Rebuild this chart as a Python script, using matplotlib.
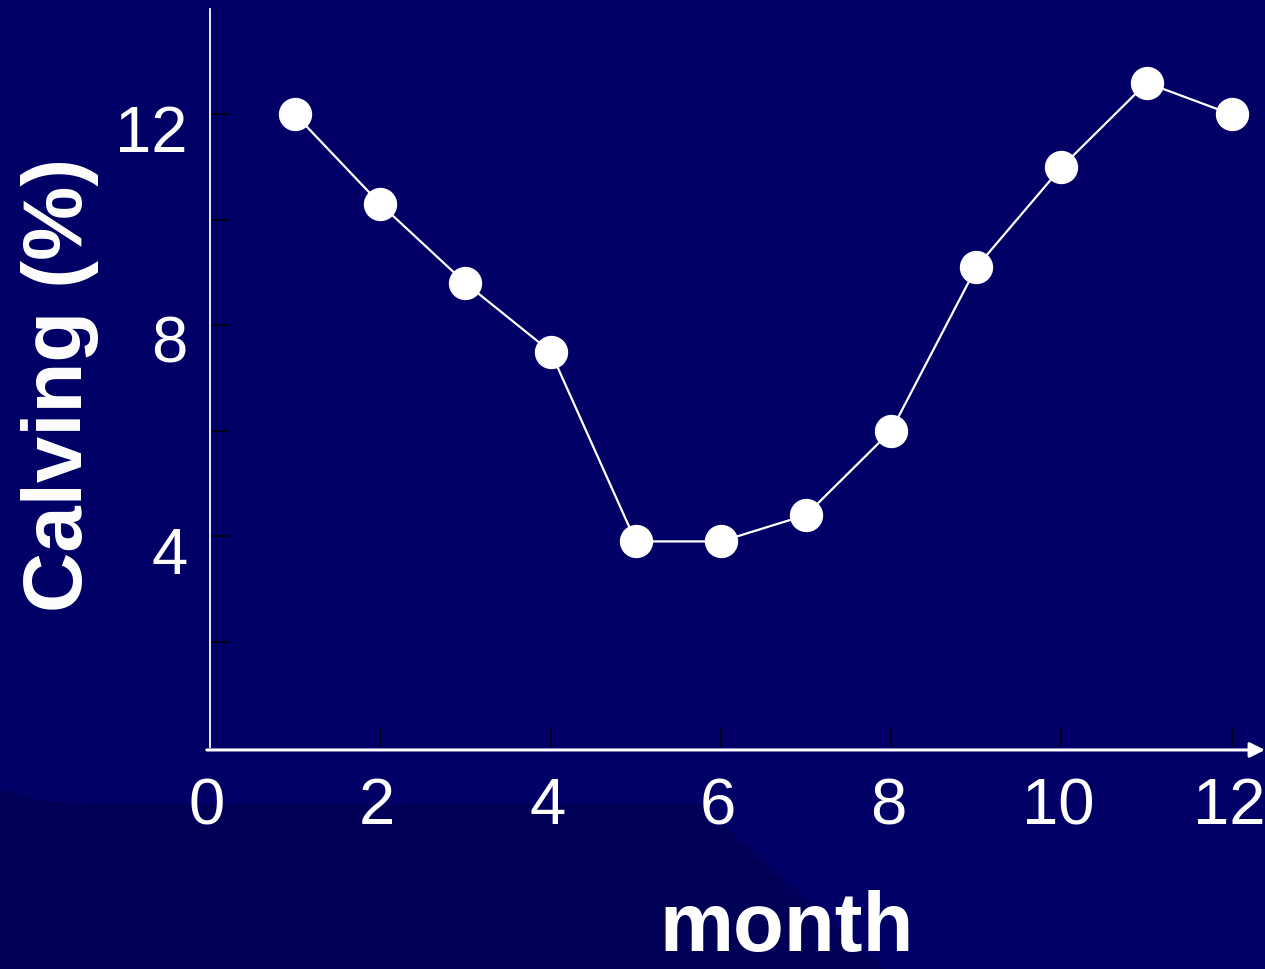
import matplotlib
matplotlib.use("Agg")
import matplotlib.pyplot as plt
import matplotlib.transforms as mtransforms
from matplotlib.patches import Polygon

# data
months = [1, 2, 3, 4, 5, 6, 7, 8, 9, 10, 11, 12]
calving = [12.0, 10.3, 8.8, 7.5, 3.9, 3.9, 4.4, 6.0, 9.1, 11.0, 12.6, 12.0]
x_ticks = [0, 2, 4, 6, 8, 10, 12]
y_ticks = [2, 4, 6, 8, 10, 12]
y_labels = ["", "4", "", "8", "", "12"]

W, H = 1265, 970
bg = "#000066"

plt.rcParams["font.family"] = ["Liberation Sans", "DejaVu Sans"]

fig = plt.figure(figsize=(W / 100, H / 100), dpi=100)
fig.patch.set_facecolor(bg)

# darker swoosh in the lower left of the slide background
pts = [(0, 790), (20, 797), (45, 802), (80, 805), (700, 805), (885, 970), (0, 970)]
fig.patches.append(Polygon([(x / W, 1 - y / H) for x, y in pts], closed=True,
                           transform=fig.transFigure, facecolor="#000056",
                           edgecolor="none", zorder=-5))

ax = fig.add_axes([210 / W, 1 - 748 / H, (W - 210) / W, (748 - 10) / H])
ax.set_zorder(2)
ax.set_facecolor("none")
ax.set_xlim(0, 12.39)
ax.set_ylim(0, 14)

ax.plot(months, calving, color="white", lw=1.6, marker="o", markersize=23,
        markerfacecolor="white", markeredgecolor="white", clip_on=False, zorder=3)

for s in ["top", "right", "bottom"]:
    ax.spines[s].set_visible(False)
ax.spines["left"].set_color("white")
ax.spines["left"].set_linewidth(1.3)

# x axis drawn as an arrow
ax.annotate("", xy=(1.0, -0.004), xytext=(-0.003, -0.004),
            xycoords="axes fraction", textcoords="axes fraction",
            arrowprops=dict(arrowstyle="-|>,head_length=0.9,head_width=0.45",
                            color="white", lw=2.2, shrinkA=0, shrinkB=0))

ax.set_xticks(x_ticks)
ax.set_xticklabels([str(v) for v in x_ticks])
ax.set_yticks(y_ticks)
ax.set_yticklabels(y_labels)

ax.tick_params(axis="both", direction="in", length=14.4, width=1.1,
               color="black", labelcolor="white", labelsize=47)
ax.tick_params(axis="x", pad=21)
ax.tick_params(axis="y", pad=16)
ax.xaxis.get_major_ticks()[0].tick1line.set_visible(False)

# y labels sit a bit below their ticks in the original
shift = mtransforms.ScaledTranslation(0, -13 / 100, fig.dpi_scale_trans)
for lab in ax.get_yticklabels():
    lab.set_transform(lab.get_transform() + shift)
xshift = mtransforms.ScaledTranslation(-3 / 100, 0, fig.dpi_scale_trans)
for lab in ax.get_xticklabels():
    lab.set_transform(lab.get_transform() + xshift)

fig.text(60 / W, 1 - 385 / H, "Calving (%)", rotation=90, color="white",
         fontsize=60, fontweight="bold", ha="center", va="center")
fig.text(787 / W, 1 - 968 / H, "month", color="white",
         fontsize=60, fontweight="bold", ha="center", va="bottom")

fig.savefig("out.png", dpi=100, facecolor=bg)
